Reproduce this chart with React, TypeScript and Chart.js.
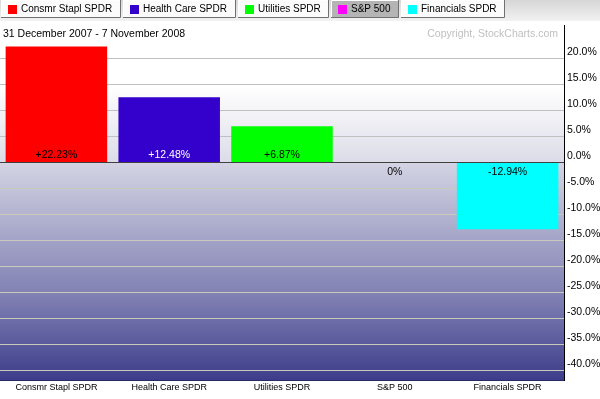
import React, { useEffect, useRef } from "react";
import { Chart, registerables } from "chart.js";

Chart.register(...registerables);

const categories = ["Consmr Stapl SPDR", "Health Care SPDR", "Utilities SPDR", "S&P 500", "Financials SPDR"];
const values = [22.23, 12.48, 6.87, 0, -12.94];
const valueLabels = ["+22.23%", "+12.48%", "+6.87%", "0%", "-12.94%"];
const barColors = ["#ff0000", "#3300cc", "#00ff00", "#ff00ff", "#00ffff"];
const labelColors = ["#000000", "#ffffff", "#000000", "#000000", "#000000"];
const yTicks = [20, 15, 10, 5, 0, -5, -10, -15, -20, -25, -30, -35, -40];
const tabLabels = ["Consmr Stapl SPDR", "Health Care SPDR", "Utilities SPDR", "S&P 500", "Financials SPDR"];
const selectedTab = 3;
const dateRange = "31 December 2007 - 7 November 2008";
const copyright = "Copyright, StockCharts.com";

const FAMILY = "'Liberation Sans', Arial, sans-serif";
const TAB_FONT = "10px " + FAMILY;
const TEXT_FONT = "10.5px " + FAMILY;
const TICK_FONT = "10.5px " + FAMILY;
const XLAB_FONT = "9px " + FAMILY;

const decoPlugin = {
  id: "deco",
  beforeDraw(chart: any) {
    const ctx = chart.ctx as CanvasRenderingContext2D;
    const { left, right, top, bottom } = chart.chartArea;
    const y = chart.scales.y;
    const zero = Math.round(y.getPixelForValue(0));
    ctx.save();
    ctx.fillStyle = "#ffffff";
    ctx.fillRect(0, 0, chart.width, chart.height);

    // tab bar
    const tg = ctx.createLinearGradient(0, 0, 0, 21);
    tg.addColorStop(0, "#d6d6d6");
    tg.addColorStop(1, "#f2f2f2");
    ctx.fillStyle = tg;
    ctx.fillRect(0, 0, chart.width, 21);

    ctx.font = TAB_FONT;
    ctx.textBaseline = "middle";
    let x = 1;
    tabLabels.forEach((lab, i) => {
      const tw = ctx.measureText(lab).width;
      const w = Math.round(tw + 28.7);
      const h = 18;
      ctx.fillStyle = i === selectedTab ? "#b4b4b4" : "#fbfbfb";
      ctx.fillRect(x, 0, w, h);
      ctx.strokeStyle = "#ffffff";
      ctx.lineWidth = 1;
      ctx.beginPath();
      ctx.moveTo(x + 0.5, h);
      ctx.lineTo(x + 0.5, 0.5);
      ctx.lineTo(x + w, 0.5);
      ctx.stroke();
      ctx.strokeStyle = "#707070";
      ctx.beginPath();
      ctx.moveTo(x + w - 0.5, 0);
      ctx.lineTo(x + w - 0.5, h - 0.5);
      ctx.lineTo(x, h - 0.5);
      ctx.stroke();
      ctx.fillStyle = barColors[i];
      ctx.fillRect(x + 7, 5, 9, 9);
      ctx.fillStyle = "#000000";
      ctx.textAlign = "left";
      ctx.fillText(lab, x + 20, 9.5);
      x += w + 2;
    });

    // plot background above zero
    const g1 = ctx.createLinearGradient(0, top, 0, zero);
    g1.addColorStop(0, "#ffffff");
    g1.addColorStop(0.45, "#ffffff");
    g1.addColorStop(1, "#dcdce8");
    ctx.fillStyle = g1;
    ctx.fillRect(left, top, right - left, zero - top);
    // below zero
    const g2 = ctx.createLinearGradient(0, zero, 0, bottom);
    g2.addColorStop(0, "#d4d4e4");
    g2.addColorStop(0.35, "#a4a4c8");
    g2.addColorStop(0.65, "#7a7ab0");
    g2.addColorStop(1, "#3c3c8a");
    ctx.fillStyle = g2;
    ctx.fillRect(left, zero, right - left, bottom - zero);

    // gridlines
    yTicks.forEach((t) => {
      if (t === 0) return;
      const py = Math.round(y.getPixelForValue(t));
      ctx.fillStyle = t > 0 ? "#c0c0c0" : "#cacabc";
      ctx.fillRect(left, py, right - left, 1);
    });

    // header texts
    ctx.font = TEXT_FONT;
    ctx.textBaseline = "middle";
    ctx.fillStyle = "#000000";
    ctx.textAlign = "left";
    ctx.fillText(dateRange, 3, 34);
    ctx.fillStyle = "#c0c0c0";
    ctx.textAlign = "right";
    ctx.fillText(copyright, 558, 34);
    ctx.restore();
  },
  afterDraw(chart: any) {
    const ctx = chart.ctx as CanvasRenderingContext2D;
    const { left, right, top, bottom } = chart.chartArea;
    const y = chart.scales.y;
    const xs = chart.scales.x;
    const zero = Math.round(y.getPixelForValue(0));
    ctx.save();
    // zero line
    ctx.fillStyle = "#404040";
    ctx.fillRect(left, zero, right - left, 1);
    // bottom border
    ctx.fillStyle = "#2a2a6a";
    ctx.fillRect(left, bottom - 1, right - left, 1);
    // right axis
    ctx.fillStyle = "#000000";
    ctx.fillRect(Math.round(right), top, 1, bottom - top);

    ctx.textBaseline = "middle";
    // y tick labels
    ctx.font = TICK_FONT;
    ctx.textAlign = "left";
    yTicks.forEach((t) => {
      const py = Math.round(y.getPixelForValue(t));
      ctx.fillStyle = "#000000";
      ctx.fillText(t.toFixed(1) + "%", right + 3, py - 6);
    });
    // x labels
    ctx.font = XLAB_FONT;
    ctx.textAlign = "center";
    categories.forEach((c, i) => {
      const px = xs.getPixelForValue(i);
      ctx.fillStyle = "#000000";
      ctx.fillText(c, px, 388);
    });
    // value labels
    ctx.font = TEXT_FONT;
    values.forEach((v, i) => {
      const px = xs.getPixelForValue(i);
      ctx.fillStyle = labelColors[i];
      const py = v > 0 ? zero - 7 : zero + 10;
      ctx.fillText(valueLabels[i], px, py);
    });
    ctx.restore();
  },
};

export default function App() {
  const ref = useRef<HTMLCanvasElement | null>(null);
  useEffect(() => {
    if (!ref.current) return;
    const chart = new Chart(ref.current, {
      type: "bar",
      data: {
        labels: categories,
        datasets: [
          {
            data: values,
            backgroundColor: barColors,
            borderWidth: 0,
            barPercentage: 0.9,
            categoryPercentage: 1,
          },
        ],
      },
      options: {
        animation: false,
        responsive: false,
        maintainAspectRatio: false,
        layout: { padding: { left: 0, right: 36, top: 25, bottom: 18 } },
        plugins: { legend: { display: false }, tooltip: { enabled: false } },
        scales: {
          x: {
            display: false,
            grid: { display: false },
          },
          y: {
            display: false,
            min: -42.1,
            max: 26.35,
            grid: { display: false },
          },
        },
      },
      plugins: [decoPlugin],
    });
    return () => chart.destroy();
  }, []);
  return (
    <div style={{ position: "fixed", left: 0, top: 0, width: 600, height: 399 }}>
      <canvas ref={ref} width={600} height={399} style={{ width: 600, height: 399, display: "block" }} />
    </div>
  );
}
